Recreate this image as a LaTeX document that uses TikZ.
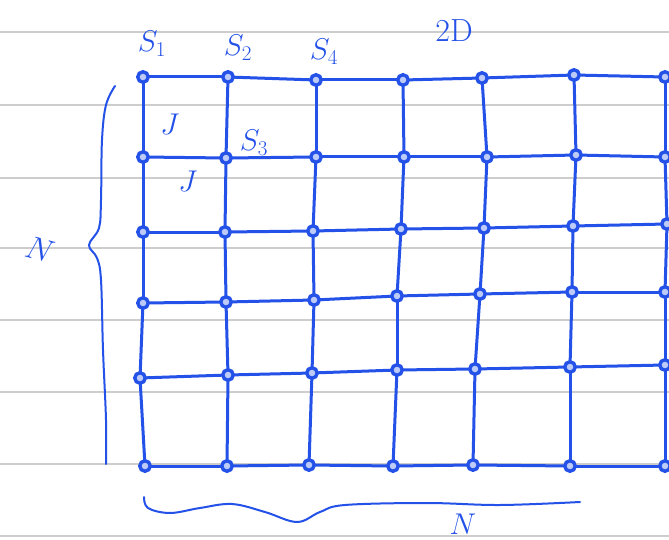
\RequirePackage{fix-cm}
\documentclass[tikz,border=0pt]{standalone}
\usetikzlibrary{calc}
\definecolor{handblue}{RGB}{36,82,232}
\definecolor{ruleline}{RGB}{205,205,205}
\begin{document}
\begin{tikzpicture}[x=1pt,y=-1pt,
  rule/.style={draw=ruleline,line width=1.4pt},
  gridline/.style={draw=handblue,line width=3pt,line cap=round},
  dot/.style={circle,draw=handblue,fill=handblue!30,line width=3.4pt,minimum size=10.5pt,inner sep=0pt},
  brace/.style={draw=handblue,line width=2pt,line cap=round,line join=round},
  lbl/.style={text=handblue,font=\fontsize{30}{34}\selectfont,inner sep=0pt}]
\useasboundingbox[fill=white] (0,0) rectangle (669,540);
% ruled paper
\foreach \yy in {32,105,178,248,320,392,464,536}
  \draw[rule] (0,\yy) -- (669,\yy);
% lattice positions
\foreach \c/\x/\y in {1/143/77,2/228/77,3/316/80,4/403/80,5/482/78,6/574/75,7/665/77}
  \coordinate (p-1-\c) at (\x,\y);
\foreach \c/\x/\y in {1/143/157,2/226/158,3/316/157,4/404/157,5/487/157,6/576/155,7/665/157}
  \coordinate (p-2-\c) at (\x,\y);
\foreach \c/\x/\y in {1/143/232,2/225/232,3/313/231,4/401/229,5/484/228,6/573/226,7/667/224}
  \coordinate (p-3-\c) at (\x,\y);
\foreach \c/\x/\y in {1/143/303,2/226/302,3/314/300,4/397/296,5/480/294,6/572/292,7/665/292}
  \coordinate (p-4-\c) at (\x,\y);
\foreach \c/\x/\y in {1/140/378,2/228/375,3/312/373,4/397/370,5/475/369,6/570/367,7/665/365}
  \coordinate (p-5-\c) at (\x,\y);
\foreach \c/\x/\y in {1/145/466,2/227/466,3/309/465,4/393/466,5/473/465,6/570/466,7/665/466}
  \coordinate (p-6-\c) at (\x,\y);
% bonds
\foreach \r in {1,...,6}{
  \foreach \c in {1,...,6}{
    \pgfmathtruncatemacro{\cn}{\c+1}
    \draw[gridline] (p-\r-\c) -- (p-\r-\cn);
  }
  \draw[gridline] (p-\r-7) -- ++(6,0);
}
\foreach \c in {1,...,7}{
  \foreach \r in {1,...,5}{
    \pgfmathtruncatemacro{\rn}{\r+1}
    \draw[gridline] (p-\r-\c) -- (p-\rn-\c);
  }
}
% sites
\foreach \r in {1,...,6}
  \foreach \c in {1,...,7}
    \node[dot] (s-\r-\c) at (p-\r-\c) {};
% labels
\node[lbl] (l1) at (152,44) {$S_1$};
\node[lbl] (l2) at (238,48) {$S_2$};
\node[lbl] (l4) at (324,52) {$S_4$};
\node[lbl] (l3) at (254,143) {$S_3$};
\node[lbl] (j1) at (170,124) {$J$};
\node[lbl] (j2) at (188,181) {$J$};
\node[lbl,font=\fontsize{32}{36}\selectfont] (twod) at (454,31) {2D};
\node[lbl,rotate=-15,font=\fontsize{32}{36}\selectfont] (nl) at (40,250) {$N$};
\node[lbl] (nb) at (463,524) {$N$};
% braces
\draw[brace] plot[smooth,tension=0.6] coordinates {(115,86) (106,105) (102,140) (101,200) (99,228) (89,245) (97,258) (101,280) (103,350) (106,420) (106,464)};
\draw[brace] plot[smooth,tension=0.6] coordinates {(144,497) (148,508) (170,513) (200,508) (232,504) (265,512) (297,522) (320,512) (345,505) (427,503) (500,505) (580,502)};
\end{tikzpicture}
\end{document}
